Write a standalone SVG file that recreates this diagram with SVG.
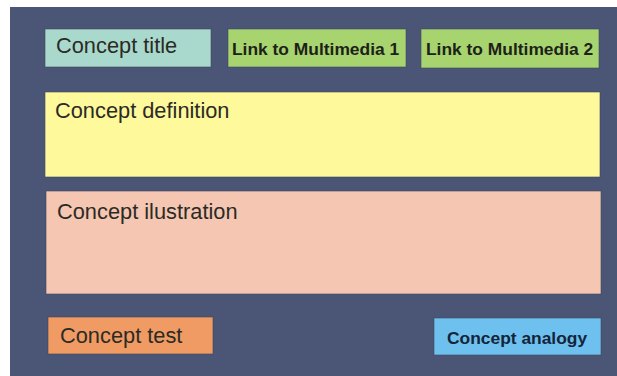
<svg xmlns="http://www.w3.org/2000/svg" width="617" height="376" viewBox="0 0 617 376">
<style>
.reg{font-family:"Liberation Sans",Arial,sans-serif;font-size:21.8px;fill:#2b2b26}
.bold{font-family:"Liberation Sans",Arial,sans-serif;font-size:17.4px;font-weight:bold;fill:#1c2218}
.box{stroke:#3c4660;stroke-width:0.6}
</style>
<rect x="0" y="0" width="617" height="376" fill="#ffffff"/>
<rect x="10" y="7" width="607" height="369" fill="#4b5677"/>
<g id="concept-title"><rect class="box" x="45" y="29" width="166" height="38" fill="#a9d9cc"/><text class="reg" x="56" y="53">Concept title</text></g>
<g id="link-mm1"><rect class="box" x="228" y="29" width="178" height="38" fill="#a8d46f"/><text class="bold" x="232" y="55">Link to Multimedia 1</text></g>
<g id="link-mm2"><rect class="box" x="421" y="29" width="178" height="39" fill="#a8d46f"/><text class="bold" x="426" y="55">Link to Multimedia 2</text></g>
<g id="concept-definition"><rect class="box" x="45" y="92" width="555" height="85" fill="#fef99b"/><text class="reg" x="55" y="118">Concept definition</text></g>
<g id="concept-illustration"><rect class="box" x="46" y="191" width="555" height="103" fill="#f5c6b1"/><text class="reg" x="57" y="219">Concept ilustration</text></g>
<g id="concept-test"><rect class="box" x="48" y="317" width="165" height="37" fill="#f09b63"/><text class="reg" x="60" y="343">Concept test</text></g>
<g id="concept-analogy"><rect class="box" x="434" y="318" width="167" height="37" fill="#6ec0ee"/><text class="bold" x="447" y="344" style="fill:#14243a">Concept analogy</text></g>
<g id="connectors"></g>
</svg>
